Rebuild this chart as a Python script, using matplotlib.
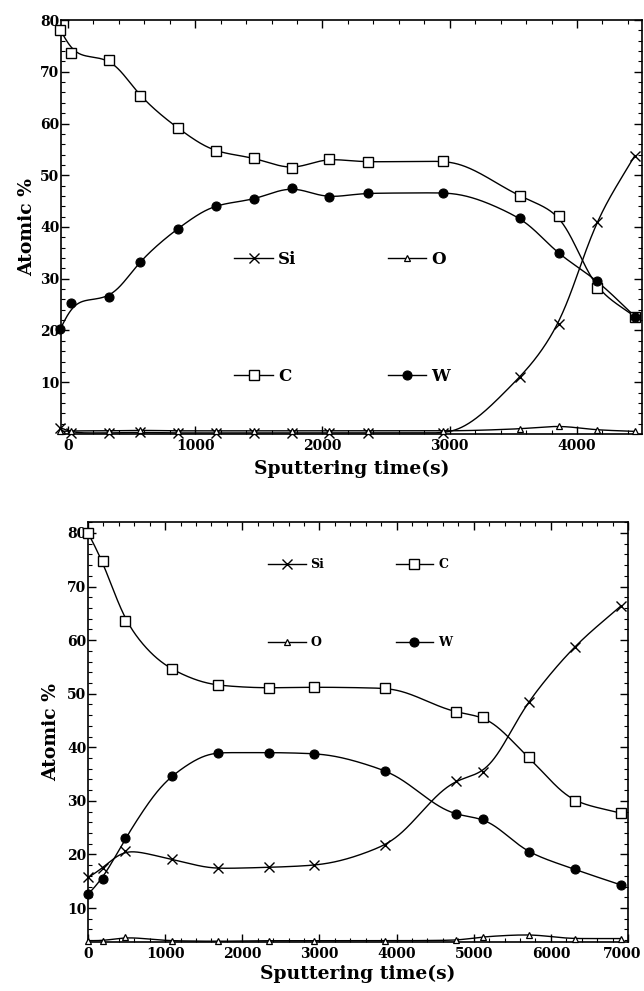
import numpy as np
import matplotlib
matplotlib.use("Agg")
import matplotlib.pyplot as plt
from matplotlib.ticker import MultipleLocator
from matplotlib.transforms import ScaledTranslation

plt.rcParams['font.family'] = 'DejaVu Serif'
plt.rcParams['font.weight'] = 'bold'

# ---- top panel data ----
t_top = [-60, 25, 325, 565, 865, 1160, 1460, 1760, 2050, 2355, 2950, 3550, 3855, 4155, 4455]
si_top = [1.2, 0.2, 0.2, 0.3, 0.2, 0.2, 0.2, 0.2, 0.2, 0.2, 0.2, 11.0, 21.3, 41.0, 53.8]
o_top = [0.5, 0.6, 0.6, 0.7, 0.6, 0.6, 0.6, 0.6, 0.6, 0.6, 0.6, 1.0, 1.5, 0.8, 0.5]
c_top = [78.1, 73.6, 72.3, 65.4, 59.1, 54.7, 53.3, 51.4, 53.1, 52.6, 52.7, 46.0, 42.2, 28.3, 22.7]
w_top = [20.3, 25.3, 26.5, 33.3, 39.7, 44.1, 45.4, 47.5, 45.8, 46.5, 46.6, 41.7, 34.9, 29.6, 22.7]

# ---- bottom panel data ----
t_bot = [5, 190, 485, 1083, 1683, 2346, 2930, 3855, 4766, 5115, 5711, 6313, 6910]
si_bot = [15.7, 17.4, 20.7, 19.1, 17.4, 17.6, 18.0, 21.8, 33.7, 35.4, 48.5, 58.8, 66.4]
o_bot = [3.9, 3.9, 4.5, 3.9, 3.8, 3.9, 3.9, 3.9, 4.0, 4.6, 5.0, 4.3, 4.3]
c_bot = [79.9, 74.8, 63.6, 54.6, 51.6, 51.1, 51.2, 51.0, 46.6, 45.6, 38.1, 30.0, 27.7]
w_bot = [12.6, 15.5, 23.0, 34.6, 39.0, 39.0, 38.8, 35.6, 27.5, 26.6, 20.5, 17.2, 14.3]


def pchip(x, y, xs):
    x = np.asarray(x, float)
    y = np.asarray(y, float)
    h = np.diff(x)
    d = np.diff(y) / h
    m = np.zeros_like(y)
    for k in range(1, len(x) - 1):
        if d[k - 1] * d[k] > 0:
            w1 = 2 * h[k] + h[k - 1]
            w2 = h[k] + 2 * h[k - 1]
            m[k] = (w1 + w2) / (w1 / d[k - 1] + w2 / d[k])
    m[0] = d[0]
    m[-1] = d[-1]
    idx = np.clip(np.searchsorted(x, xs) - 1, 0, len(x) - 2)
    hk = h[idx]
    s = (xs - x[idx]) / hk
    h00 = 2 * s**3 - 3 * s**2 + 1
    h10 = s**3 - 2 * s**2 + s
    h01 = -2 * s**3 + 3 * s**2
    h11 = s**3 - s**2
    return h00 * y[idx] + h10 * hk * m[idx] + h01 * y[idx + 1] + h11 * hk * m[idx + 1]


def smooth_curve(t, vals, sigma, n=900):
    # pchip through the points, then a light gaussian blur to round off corners
    xs = np.linspace(t[0], t[-1], n)
    ys = pchip(t, vals, xs)
    dx = xs[1] - xs[0]
    half = int(3 * sigma / dx) + 1
    k = np.exp(-0.5 * (np.arange(-half, half + 1) * dx / sigma) ** 2)
    k /= k.sum()
    left = 2 * ys[0] - ys[half:0:-1]
    right = 2 * ys[-1] - ys[-2:-half - 2:-1]
    padded = np.concatenate([left, ys, right])
    return xs, np.convolve(padded, k, mode='valid')


styles = {
    'Si': dict(marker='x', ms=7, mew=1.0, mfc='none'),
    'O': dict(marker='^', ms=5, mew=0.9, mfc='white'),
    'C': dict(marker='s', ms=7, mew=1.0, mfc='white'),
    'W': dict(marker='o', ms=6.5, mew=0.8, mfc='black'),
}


def draw(ax, t, series, sigma):
    handles = {}
    for name, vals in series:
        xs, ys = smooth_curve(t, vals, sigma)
        ax.plot(xs, ys, color='black', lw=1.0, clip_on=False)
        ax.plot(t, vals, ls='none', color='black', mec='black', clip_on=False,
                zorder=3, **styles[name])
        handles[name] = plt.Line2D([], [], color='black', lw=1.0, mec='black',
                                   **styles[name])
    return handles


def style_axes(ax):
    ax.xaxis.set_minor_locator(MultipleLocator(200))
    ax.yaxis.set_minor_locator(MultipleLocator(2))
    ax.tick_params(which='both', direction='in', top=True, right=True)
    ax.tick_params(which='major', length=6, width=1.0, labelsize=10)
    ax.tick_params(which='minor', length=3, width=0.8)
    ax.tick_params(axis='y', pad=1)
    for sp in ax.spines.values():
        sp.set_linewidth(1.2)
    for lab in ax.get_xticklabels() + ax.get_yticklabels():
        lab.set_fontweight('bold')


fig = plt.figure(figsize=(6.44, 9.91), dpi=100)

# top panel
ax1 = fig.add_axes([0.0947, 0.5621, 0.9022, 0.4177])
h1 = draw(ax1, t_top, [('Si', si_top), ('O', o_top), ('C', c_top), ('W', w_top)], 70)
ax1.set_xlim(-55, 4511)
ax1.set_ylim(0, 80)
ax1.set_xticks([0, 1000, 2000, 3000, 4000])
ax1.set_yticks([10, 20, 30, 40, 50, 60, 70, 80])
style_axes(ax1)
ax1.set_xlabel('Sputtering time(s)', fontsize=13.5, fontweight='bold', labelpad=5)
ax1.set_ylabel('Atomic %', fontsize=13.5, fontweight='bold', labelpad=3)
ax1.legend([h1['Si'], h1['C'], h1['O'], h1['W']], ['Si', 'C', 'O', 'W'],
           ncol=2, frameon=False, loc='center', bbox_to_anchor=(0.484, 0.281),
           prop=dict(size=12, weight='bold'), handlelength=2.3,
           handletextpad=0.3, columnspacing=5.5, labelspacing=6.0, borderpad=0)

# bottom panel
ax2 = fig.add_axes([0.1366, 0.0494, 0.8386, 0.4239])
h2 = draw(ax2, t_bot, [('Si', si_bot), ('O', o_bot), ('C', c_bot), ('W', w_bot)], 110)
ax2.set_xlim(0, 6975)
ax2.set_ylim(3.65, 82.05)
ax2.set_xticks([0, 1000, 2000, 3000, 4000, 5000, 6000, 7000])
ax2.set_yticks([10, 20, 30, 40, 50, 60, 70, 80])
style_axes(ax2)
ax2.set_xlabel('Sputtering time(s)', fontsize=13.5, fontweight='bold', labelpad=3)
ax2.set_ylabel('Atomic %', fontsize=13.5, fontweight='bold', labelpad=5)
ax2.legend([h2['Si'], h2['O'], h2['C'], h2['W']], ['Si', 'O', 'C', 'W'],
           ncol=2, frameon=False, loc='center', bbox_to_anchor=(0.504, 0.805),
           prop=dict(size=9, weight='bold'), handlelength=3.0,
           handletextpad=0.4, columnspacing=5.7, labelspacing=5.2, borderpad=0)

# keep the last bottom tick label inside the image
last = ax2.get_xticklabels()[-1]
last.set_transform(last.get_transform() + ScaledTranslation(-6 / 100, 0, fig.dpi_scale_trans))

fig.savefig('out.png', dpi=100)
